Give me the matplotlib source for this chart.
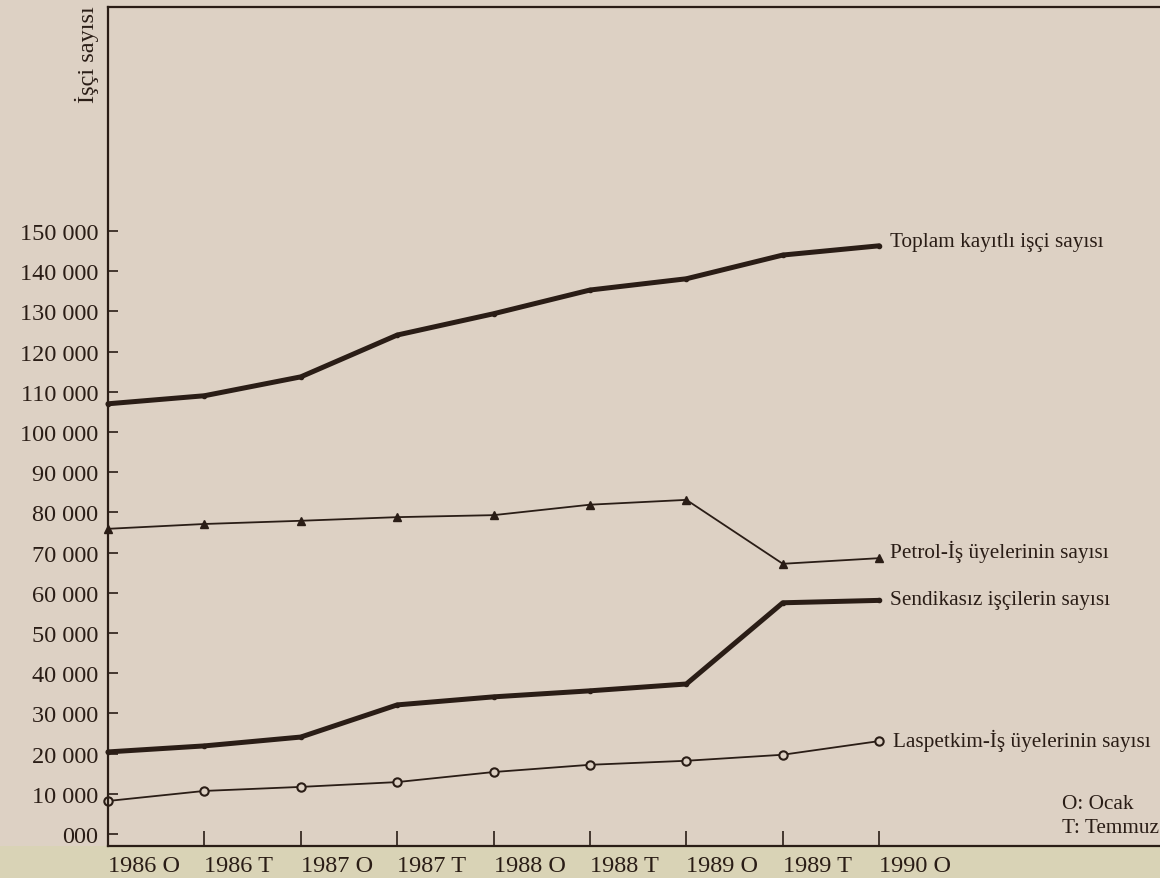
import matplotlib
matplotlib.use("Agg")
import matplotlib.pyplot as plt
from matplotlib.patches import Rectangle

plt.rcParams['font.family'] = ['Liberation Serif', 'DejaVu Serif']

periods = ['1986 O', '1986 T', '1987 O', '1987 T', '1988 O',
           '1988 T', '1989 O', '1989 T', '1990 O']
toplam = [107000, 109000, 113700, 124100, 129400, 135300, 138100, 144000, 146300]
petrol = [75900, 77100, 77900, 78800, 79300, 81900, 83100, 67200, 68600]
sendikasiz = [20400, 21900, 24100, 32100, 34100, 35600, 37300, 57500, 58100]
laspetkim = [8200, 10700, 11700, 12900, 15400, 17200, 18200, 19700, 23100]

yticks = list(range(0, 160000, 10000))
ytick_labels = ['000'] + ['%d 000' % (v // 1000) for v in yticks[1:]]

ink = '#2a1d16'
paper = '#ddd1c4'

fig = plt.figure(figsize=(11.6, 8.79), dpi=100, facecolor=paper)
# yellowish strip at bottom of the scan
fig.patches.append(Rectangle((0, 0), 1, 32 / 879, transform=fig.transFigure,
                             facecolor='#d9d3b6', edgecolor='none', zorder=-10))
ax = fig.add_axes([108 / 1160, 32 / 879, 1052 / 1160, 839 / 879])
ax.set_facecolor(paper)

x = list(range(len(periods)))
ax.plot(x, toplam, color=ink, lw=3.6, solid_capstyle='round',
        marker='o', ms=3, clip_on=False)
ax.plot(x, petrol, color=ink, lw=1.3, marker='^', ms=6, clip_on=False)
ax.plot(x, sendikasiz, color=ink, lw=3.6, solid_capstyle='round',
        marker='o', ms=3, clip_on=False)
ax.plot(x, laspetkim, color=ink, lw=1.3, marker='o', ms=6,
        markerfacecolor=paper, markeredgewidth=1.5, clip_on=False)

ax.set_xlim(0, 10.913)
ax.set_ylim(-3000, 205700)

ax.set_yticks(yticks)
ax.set_yticklabels(ytick_labels, fontsize=17.5, color=ink)
ax.set_xticks(x)
ax.set_xticklabels(periods, fontsize=17.5, color=ink, ha='left')
ax.tick_params(axis='y', direction='in', length=7, width=1.2, pad=7, colors=ink)
ax.tick_params(axis='x', direction='in', length=11, width=1.2, pad=6.5, colors=ink)

for side in ['left', 'top', 'bottom']:
    ax.spines[side].set_color(ink)
    ax.spines[side].set_linewidth(1.6)
ax.spines['right'].set_visible(False)

lab_kw = dict(fontsize=15.3, color=ink, va='center', ha='left')
ax.text(8.11, 147300, 'Toplam kayıtlı işçi sayısı', **lab_kw)
ax.text(8.11, 70400, 'Petrol-İş üyelerinin sayısı', **lab_kw)
ax.text(8.11, 58200, 'Sendikasız işçilerin sayısı', **lab_kw)
ax.text(8.14, 23400, 'Laspetkim-İş üyelerinin sayısı', **lab_kw)
ax.text(9.90, 7500, 'O: Ocak', **lab_kw)
ax.text(9.90, 1700, 'T: Temmuz', **lab_kw)

fig.text(87 / 1160, 1 - 6 / 879, 'İşçi sayısı', rotation=90, fontsize=17.5,
         color=ink, ha='center', va='top')

fig.savefig('out.png', dpi=100, facecolor=paper)
